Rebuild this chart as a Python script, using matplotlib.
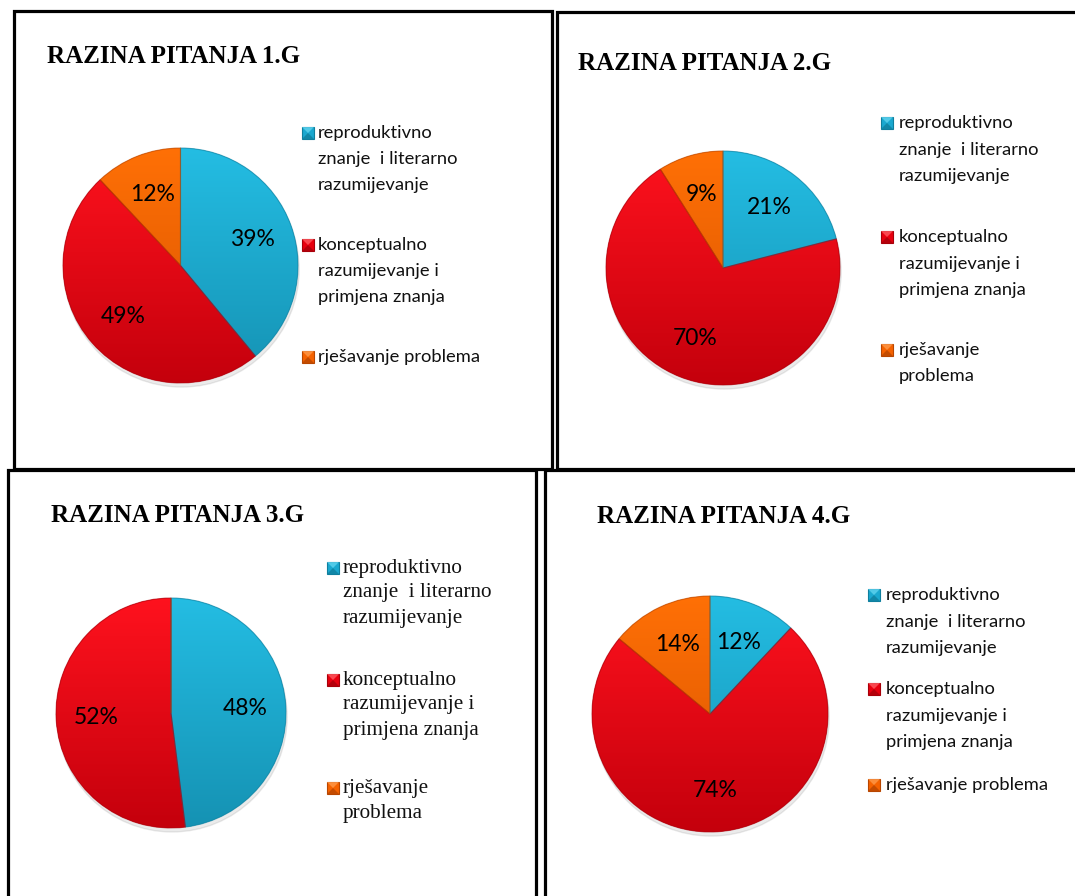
import numpy as np
import matplotlib
matplotlib.use("Agg")
import matplotlib.pyplot as plt
from matplotlib.patches import Rectangle, Wedge, Polygon
from matplotlib.colors import LinearSegmentedColormap

# ---------------- data ----------------
categories = ["reproduktivno znanje  i literarno razumijevanje",
              "konceptualno razumijevanje i primjena znanja",
              "rješavanje problema"]
titles = ["RAZINA PITANJA 1.G", "RAZINA PITANJA 2.G",
          "RAZINA PITANJA 3.G", "RAZINA PITANJA 4.G"]
values_1g = [39, 49, 12]
values_2g = [21, 70, 9]
values_3g = [48, 52, 0]
values_4g = [12, 74, 14]

labels_a = ["reproduktivno\nznanje  i literarno\nrazumijevanje",
            "konceptualno\nrazumijevanje i\nprimjena znanja",
            "rješavanje problema"]
labels_b = ["reproduktivno\nznanje  i literarno\nrazumijevanje",
            "konceptualno\nrazumijevanje i\nprimjena znanja",
            "rješavanje\nproblema"]

# ---------------- style ----------------
W, H = 1075, 896
fig = plt.figure(figsize=(W / 100, H / 100), dpi=100)
fig.patch.set_facecolor("white")

grad_colors = [("#24bde3", "#1592b3"),   # blue
               ("#ff121e", "#c4000c"),   # red
               ("#ff7006", "#d85400")]   # orange
flat_colors = ["#1aa8cf", "#e8000f", "#f56200"]
light_colors = ["#5fd3ef", "#ff5a60", "#ff9a4a"]
edge_colors = ["#0f7f9e", "#a8000a", "#b84600"]

def fx(x):
    return x / W

def fy(y):
    return 1 - y / H

# panel layout (pixels)
panels = [
    dict(vals=values_1g, title=titles[0], tx=47, ty=63, cx=180.5, cy=265.5, r=117.5,
         labels=labels_a, lx=302, ltx=318, ly=[133, 245, 357], step=26,
         lfont="Lato", lsize=13.2),
    dict(vals=values_2g, title=titles[1], tx=578, ty=70, cx=723, cy=268, r=117,
         labels=labels_b, lx=881, ltx=899, ly=[123, 237, 350], step=26.5,
         lfont="Lato", lsize=13.2),
    dict(vals=values_3g, title=titles[2], tx=51, ty=522, cx=171, cy=713, r=115,
         labels=labels_b, lx=327, ltx=343, ly=[568, 680, 788], step=25,
         lfont="Liberation Serif", lsize=15.2),
    dict(vals=values_4g, title=titles[3], tx=597, ty=523, cx=710, cy=714, r=118,
         labels=labels_a, lx=868, ltx=886, ly=[595, 689, 785], step=26.5,
         lfont="Lato", lsize=13.2),
]

# panel borders (pixel centerlines)
borders = [(13.5, 11.5, 551.5, 469.5),
           (557, 12.5, 1085, 469.5),
           (7.5, 470.5, 536, 905),
           (544.5, 470.5, 1085, 905)]
for (x0, y0, x1, y1) in borders:
    fig.patches.append(Rectangle((fx(x0), fy(y1)), fx(x1) - fx(x0), fy(y0) - fy(y1),
                                 transform=fig.transFigure, fill=False,
                                 edgecolor="black", linewidth=2.3, zorder=5))

def autopct(p):
    return "" if p < 0.5 else f"{p:.0f}%"

grad = np.linspace(0, 1, 256).reshape(-1, 1)

for p in panels:
    # title
    fig.text(fx(p["tx"]), fy(p["ty"]), p["title"], family="Liberation Serif",
             weight="bold", fontsize=18, ha="left", va="baseline")

    # pie
    pad = 1.08
    cx, cy, r = p["cx"], p["cy"], p["r"]
    ax = fig.add_axes([fx(cx - r * pad), fy(cy + r * pad), 2 * r * pad / W, 2 * r * pad / H])
    wedges, texts, autotexts = ax.pie(
        p["vals"], colors=flat_colors, startangle=90, counterclock=False,
        autopct=autopct, pctdistance=0.65, radius=1,
        wedgeprops=dict(edgecolor="none", linewidth=0),
        textprops=dict(family="Lato", fontsize=16.5, color="black"))
    ax.set_xlim(-pad, pad)
    ax.set_ylim(-pad, pad)
    ax.set_aspect("equal")
    # subtle shadow
    ax.add_patch(plt.Circle((0.01, -0.035), 1.0, color="#000000", alpha=0.08, zorder=0))
    for i, w in enumerate(wedges):
        cmap = LinearSegmentedColormap.from_list("g", [grad_colors[i][0], grad_colors[i][1]])
        im = ax.imshow(grad, extent=(-1, 1, -1, 1), origin="upper", cmap=cmap,
                       aspect="auto", zorder=1, interpolation="bilinear")
        im.set_clip_path(w)
        w.set_zorder(0.5)
        ax.add_patch(Wedge(w.center, w.r, w.theta1, w.theta2, facecolor="none",
                           edgecolor=edge_colors[i], linewidth=0.8, alpha=0.6, zorder=2))
    for t in autotexts:
        t.set_zorder(3)

    # legend (bevelled square markers)
    for i, lab in enumerate(p["labels"]):
        y0 = p["ly"][i]
        mx, my, ms = fx(p["lx"]), fy(y0 + 6), 12
        sw, sh = ms / W, ms / H
        fig.patches.append(Rectangle((mx, my), sw, sh, transform=fig.transFigure,
                                     facecolor=flat_colors[i],
                                     edgecolor=edge_colors[i], linewidth=0.8))
        # top bevel (lighter) and bottom bevel (darker)
        fig.patches.append(Polygon([(mx, my + sh), (mx + sw, my + sh),
                                    (mx + sw / 2, my + sh / 2)], closed=True,
                                   transform=fig.transFigure, facecolor=light_colors[i],
                                   edgecolor="none", alpha=0.8))
        fig.patches.append(Polygon([(mx, my), (mx + sw, my),
                                    (mx + sw / 2, my + sh / 2)], closed=True,
                                   transform=fig.transFigure, facecolor=edge_colors[i],
                                   edgecolor="none", alpha=0.8))
        for k, line in enumerate(lab.split("\n")):
            fig.text(fx(p["ltx"]), fy(y0 + k * p["step"]), line,
                     family=p["lfont"], fontsize=p["lsize"], ha="left", va="center",
                     color="#111111")

fig.savefig("out.png", dpi=100)
